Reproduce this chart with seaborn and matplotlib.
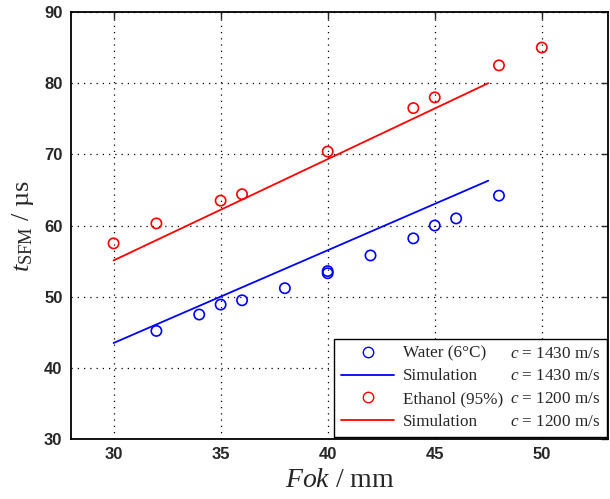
import matplotlib
matplotlib.use("Agg")
import matplotlib.pyplot as plt
import seaborn as sns
import pandas as pd
from matplotlib.lines import Line2D

# measured points
water_x = [32, 34, 35, 36, 38, 40, 40, 42, 44, 45, 46, 48]
water_y = [45.2, 47.5, 48.9, 49.5, 51.2, 53.3, 53.6, 55.8, 58.2, 60.0, 61.0, 64.2]
ethanol_x = [30, 32, 35, 36, 40, 44, 45, 48, 50]
ethanol_y = [57.5, 60.3, 63.5, 64.4, 70.4, 76.5, 78.0, 82.5, 85.0]

# simulation lines
sim_x = [30, 47.5]
sim_water_y = [43.5, 66.3]
sim_ethanol_y = [55.1, 80.0]

labels = ["Water (6\u00b0C)", "Simulation", "Ethanol (95%)", "Simulation"]
speeds = ["$c$ = 1430 m/s", "$c$ = 1430 m/s", "$c$ = 1200 m/s", "$c$ = 1200 m/s"]

sns.set_style("white")
plt.rcParams["font.family"] = ["Liberation Sans", "DejaVu Sans"]
plt.rcParams["mathtext.fontset"] = "custom"
plt.rcParams["mathtext.rm"] = "Liberation Serif"
plt.rcParams["mathtext.it"] = "Liberation Serif:italic"

fig = plt.figure(figsize=(6.1, 4.99), dpi=100)
ax = fig.add_axes([0.116, 0.12, 0.881, 0.856])

blue = (0, 0, 1)
red = (1, 0, 0)

sns.scatterplot(x=water_x, y=water_y, ax=ax, s=55, facecolor="none",
                edgecolor=blue, linewidth=1.2, zorder=3)
sns.lineplot(x=sim_x, y=sim_water_y, ax=ax, color=blue, linewidth=1.3, zorder=2)
sns.scatterplot(x=ethanol_x, y=ethanol_y, ax=ax, s=55, facecolor="none",
                edgecolor=red, linewidth=1.2, zorder=3)
sns.lineplot(x=sim_x, y=sim_ethanol_y, ax=ax, color=red, linewidth=1.3, zorder=2)

ax.set_xlim(28, 53.1)
ax.set_ylim(30, 90)
ax.set_xticks([30, 35, 40, 45, 50])
ax.set_yticks([30, 40, 50, 60, 70, 80, 90])
ax.grid(True, color="black", linestyle=(0, (1, 4)), linewidth=0.9)
ax.tick_params(direction="in", length=5, width=1, top=True, right=True,
               labelsize=12, pad=6)
for lab in ax.get_xticklabels() + ax.get_yticklabels():
    lab.set_fontweight("bold")
for sp in ax.spines.values():
    sp.set_linewidth(1.3)
    sp.set_color("black")

ax.set_xlabel("$Fok$ / mm", fontsize=20, family="Liberation Serif", labelpad=4)
ax.set_ylabel("$t_{\\mathrm{SFM}}$ / \u00b5s", fontsize=19, family="Liberation Serif", labelpad=6)

handles = [
    Line2D([], [], linestyle="none", marker="o", markerfacecolor="none",
           markeredgecolor=blue, markersize=7.5),
    Line2D([], [], color=blue, linewidth=1.3),
    Line2D([], [], linestyle="none", marker="o", markerfacecolor="none",
           markeredgecolor=red, markersize=7.5),
    Line2D([], [], color=red, linewidth=1.3),
]
blank = [Line2D([], [], linestyle="none") for _ in speeds]
leg = ax.legend(handles + blank, labels + speeds, ncol=2, loc="lower right",
                bbox_to_anchor=(0.998, 0.005), prop={"family": "Liberation Serif", "size": 12.3},
                frameon=True, fancybox=False, edgecolor="black", framealpha=1,
                handlelength=3.1, handletextpad=0.5, columnspacing=-3.2,
                labelspacing=0.4, borderpad=0.4, borderaxespad=0)
leg.get_frame().set_linewidth(1.0)

fig.savefig("out.png", dpi=100)
